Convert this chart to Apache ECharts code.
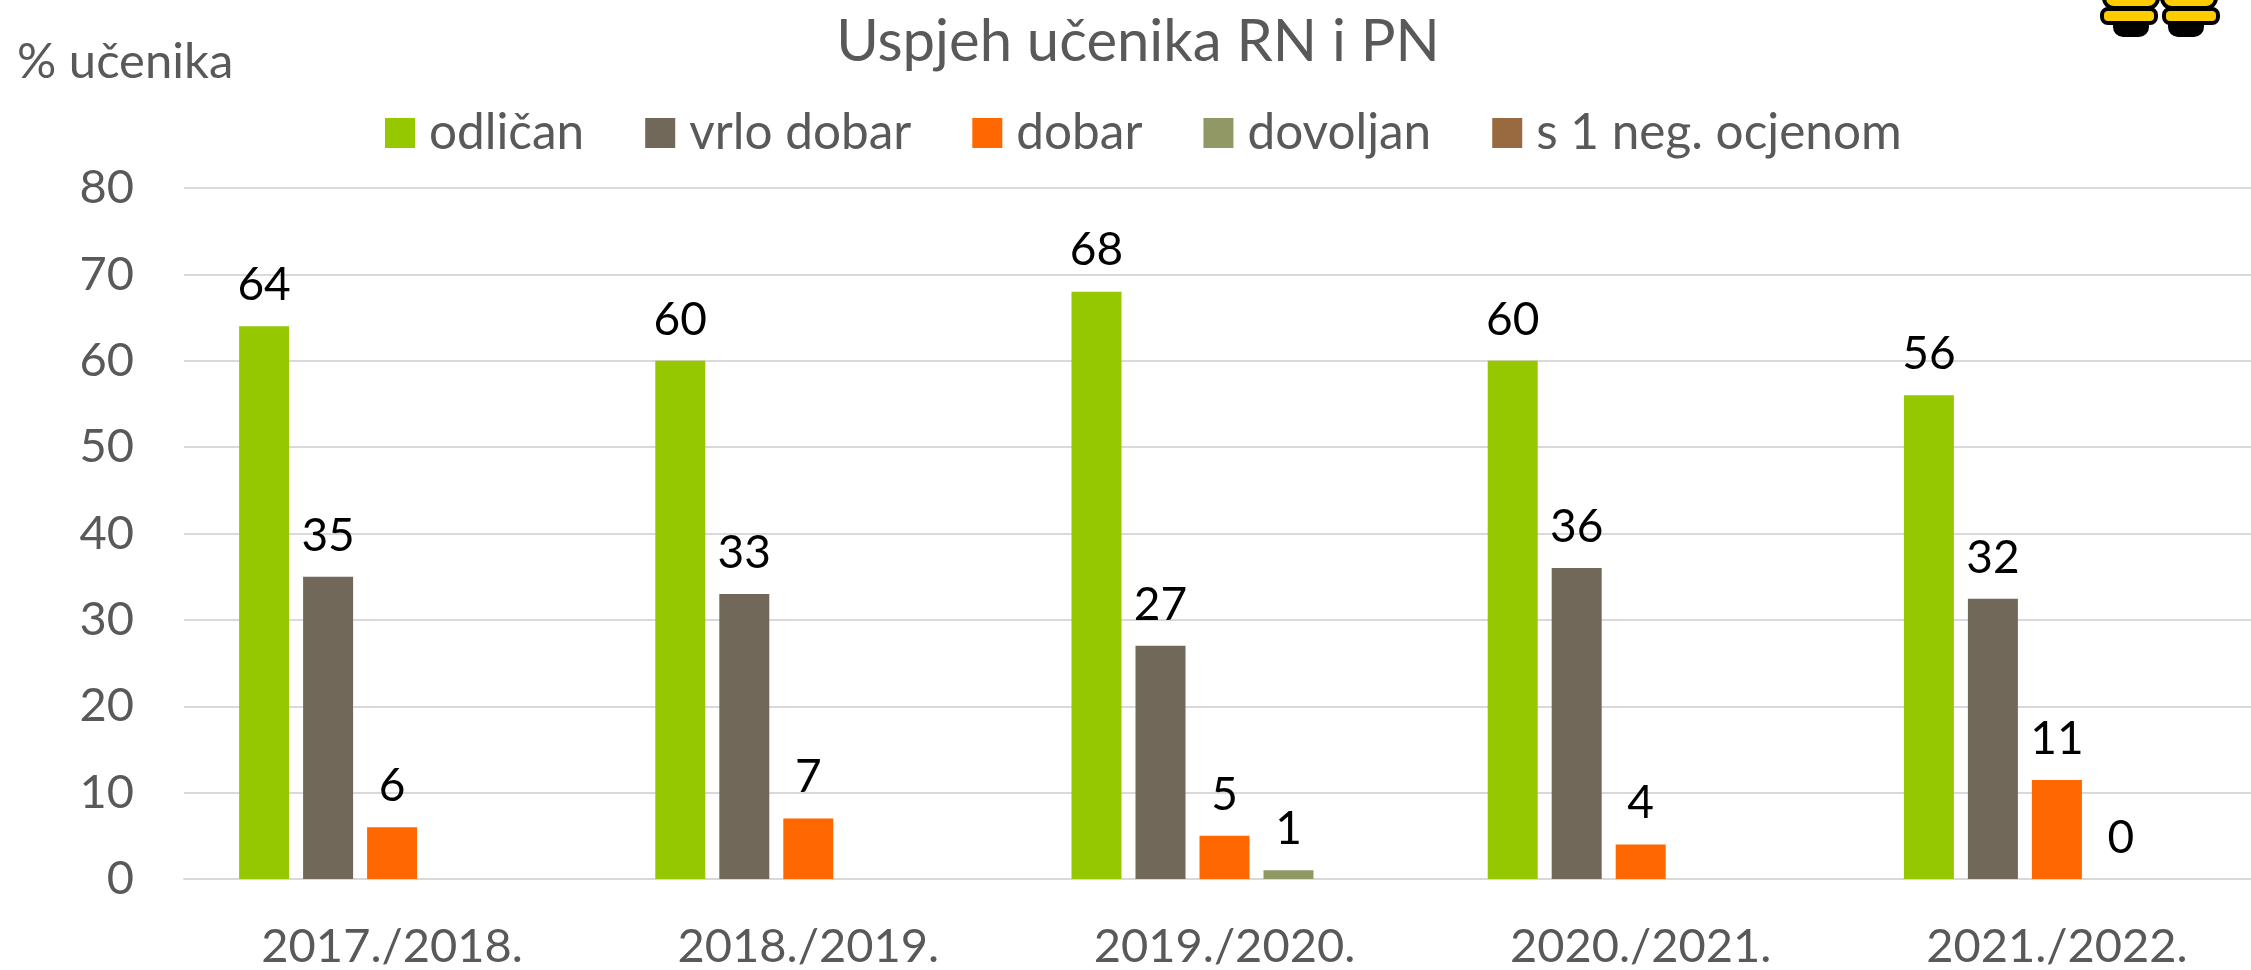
<!DOCTYPE html>
<html><head><meta charset="utf-8">
<style>html,body{margin:0;padding:0;background:#fff}#c{width:2251px;height:970px}</style>
<script src="https://cdn.jsdelivr.net/npm/echarts@6/dist/echarts.min.js"></script>
</head><body><div id="c"></div>
<script>
const categories = ['2017./2018.','2018./2019.','2019./2020.','2020./2021.','2021./2022.'];
const odlican = [64,60,68,60,56];
const vrloDobar = [35,33,27,36,32.45];
const dobar = [6,7,5,4,11.45];
const dovoljan = [null,null,1,null,0];
const jednaNeg = [null,null,null,null,null];
const yTicks = {min:0,max:80,interval:10};
const FONT = 'Lato';
const chart = echarts.init(document.getElementById('c'),null,{renderer:'canvas'});
function s(name,data,color){return {name,type:'bar',data,barWidth:50,barGap:'28%',
  itemStyle:{color},
  label:{show:true,position:'top',distance:18,color:'#000',fontFamily:FONT,fontSize:46,
    formatter:p=>Math.round(p.value)}};}
function boot(footX,upX,lowX){
  return [
    {type:'rect',shape:{x:footX,y:18,width:36,height:19,r:[0,0,10,10]},style:{fill:'#000'}},
    {type:'rect',shape:{x:upX,y:-14,width:54,height:22,r:10},style:{fill:'#FFCC00',stroke:'#000',lineWidth:4}},
    {type:'rect',shape:{x:lowX,y:9,width:54,height:14,r:6},style:{fill:'#FFCC00',stroke:'#000',lineWidth:4}}
  ];
}
chart.setOption({
  animation:false,
  backgroundColor:'#fff',
  title:[
    {text:'Uspjeh učenika RN i PN',left:1133,top:37,textAlign:'center',textVerticalAlign:'middle',
     textStyle:{fontFamily:FONT,fontSize:58,fontWeight:'normal',color:'#595959'}},
    {text:'% učenika',left:12,top:57,textVerticalAlign:'middle',
     textStyle:{fontFamily:FONT,fontSize:49,fontWeight:'normal',color:'#595959'}}
  ],
  legend:{top:108,left:385,padding:0,itemWidth:30,itemHeight:30,itemGap:61,icon:'rect',
    textStyle:{fontFamily:FONT,fontSize:49.5,color:'#595959',padding:[0,0,0,9]},
    data:['odličan','vrlo dobar','dobar','dovoljan','s 1 neg. ocjenom']},
  grid:{left:184,width:2081,top:188,height:691,outerBoundsMode:'none',containLabel:false},
  xAxis:{type:'category',data:categories,
    axisLine:{lineStyle:{color:'#D9D9D9',width:2}},axisTick:{show:false},
    axisLabel:{color:'#595959',fontFamily:FONT,fontSize:47,margin:44,interval:0}},
  yAxis:{type:'value',min:yTicks.min,max:yTicks.max,interval:yTicks.interval,
    axisLine:{show:false},axisTick:{show:false},
    splitLine:{lineStyle:{color:'#D9D9D9',width:2}},
    axisLabel:{color:'#595959',fontFamily:FONT,fontSize:47,margin:50}},
  series:[
    s('odličan',odlican,'#95C800'),
    s('vrlo dobar',vrloDobar,'#71685A'),
    s('dobar',dobar,'#FF6800'),
    s('dovoljan',dovoljan,'#919866'),
    s('s 1 neg. ocjenom',jednaNeg,'#996A40')
  ],
  graphic:[{type:'group',x:0,y:0,silent:true,children:[...boot(2113,2104,2102),...boot(2168,2162,2164)]}]
});
</script></body></html>
